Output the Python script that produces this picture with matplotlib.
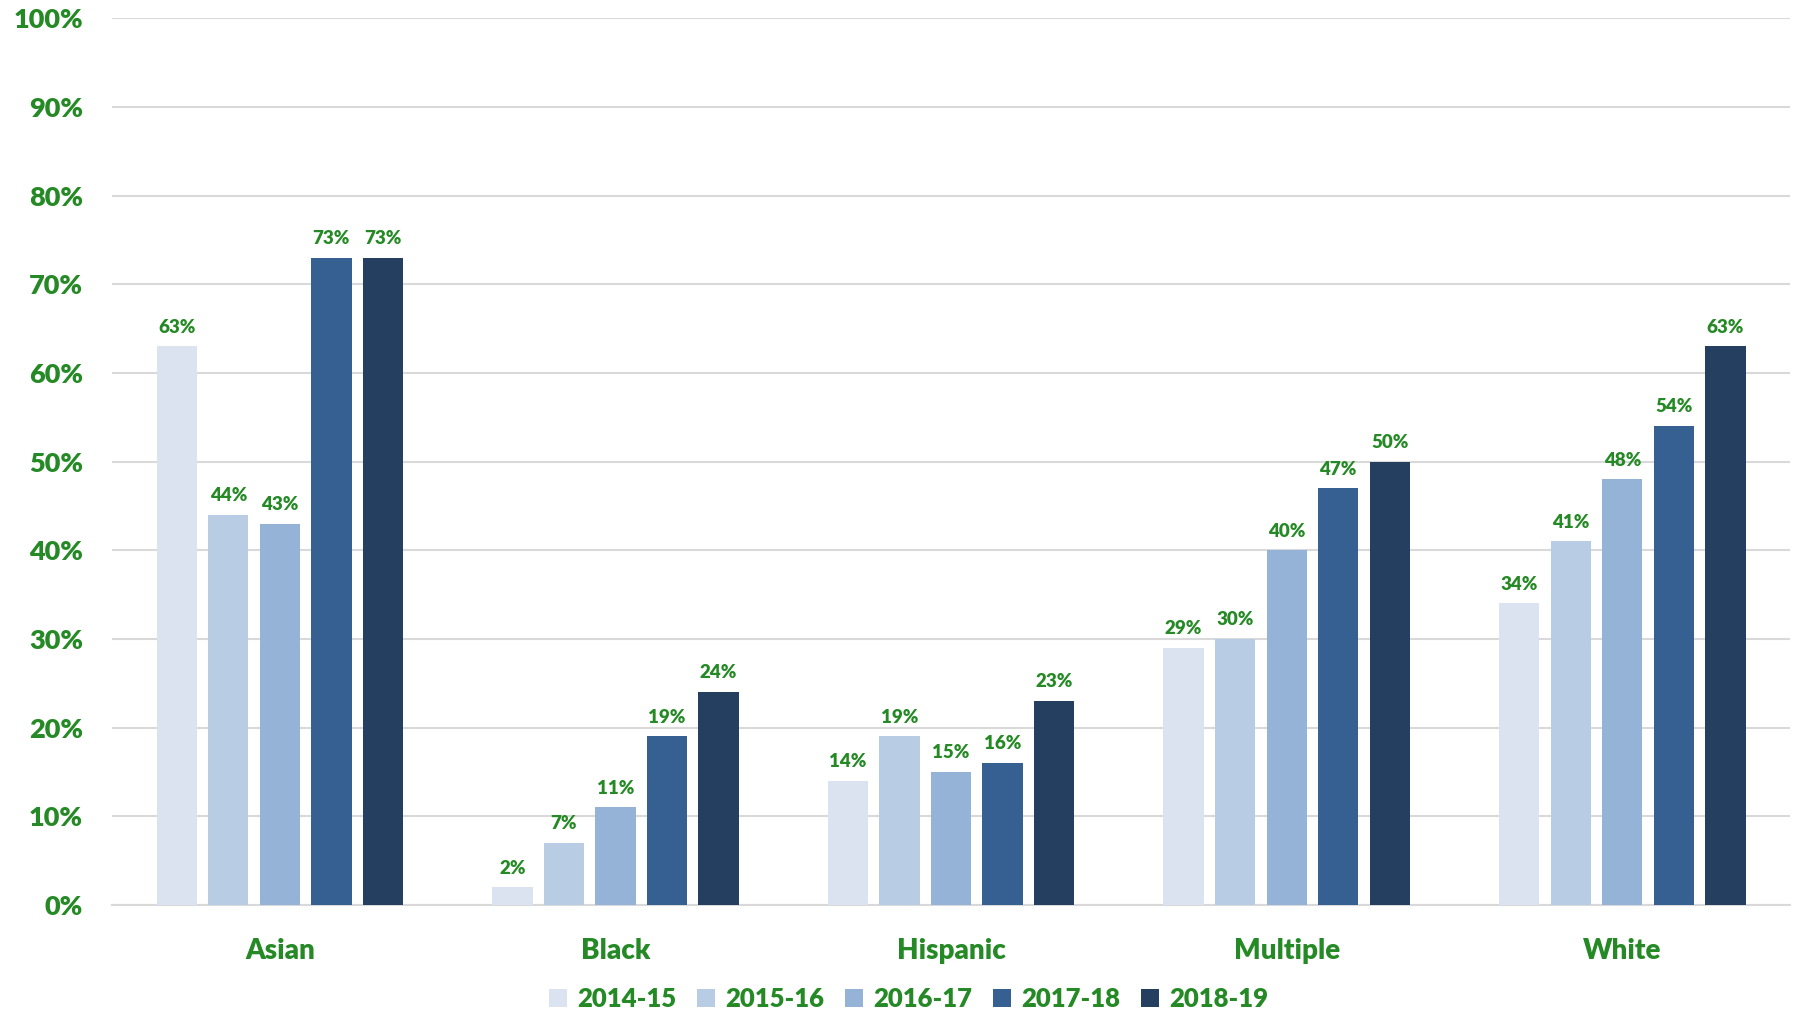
import numpy as np
import matplotlib.pyplot as plt
from matplotlib.ticker import PercentFormatter

groups = ["Asian", "Black", "Hispanic", "Multiple", "White"]
years = ["2014-15", "2015-16", "2016-17", "2017-18", "2018-19"]
rates = {
    "2014-15": [63, 2, 14, 29, 34],
    "2015-16": [44, 7, 19, 30, 41],
    "2016-17": [43, 11, 15, 40, 48],
    "2017-18": [73, 19, 16, 47, 54],
    "2018-19": [73, 24, 23, 50, 63],
}
colors = ["#dae3ef", "#b8cce4", "#95b3d7", "#366092", "#253f60"]
green = "#258a25"

plt.rcParams['font.family'] = ['Lato', 'DejaVu Sans']
W = 'heavy'

fig = plt.figure(figsize=(17.96, 10.10), dpi=100)
ax = fig.add_axes([0.0624, 0.104, 0.9343, 0.878])

x = np.arange(len(groups))
step = 0.1536
width = 0.12
for i, yr in enumerate(years):
    pos = x + (i - 2) * step
    bars = ax.bar(pos, rates[yr], width, color=colors[i], label=yr, zorder=3)
    for b, v in zip(bars, rates[yr]):
        ax.text(b.get_x() + b.get_width() / 2, v + 1.2, f"{v}%",
                ha='center', va='bottom', fontsize=13.5, color=green,
                fontweight=W)

ax.set_xlim(-0.5, 4.5)
ax.set_ylim(0, 100)
ax.set_yticks(np.arange(0, 101, 10))
ax.yaxis.set_major_formatter(PercentFormatter(decimals=0))
ax.set_xticks(x)
ax.set_xticklabels(groups)
ax.tick_params(axis='both', length=0, labelsize=19.5, labelcolor=green)
ax.tick_params(axis='y', pad=21)
ax.tick_params(axis='x', pad=24)
for lab in ax.get_xticklabels() + ax.get_yticklabels():
    lab.set_fontweight(W)
for lab in ax.get_xticklabels():
    lab.set_fontsize(20)

ax.grid(axis='y', color='#d9d9d9', linewidth=1.5, zorder=0)
for s in ['top', 'right', 'left']:
    ax.spines[s].set_visible(False)
ax.spines['bottom'].set_color('#d9d9d9')
ax.spines['bottom'].set_linewidth(1.5)

leg = fig.legend(loc='center', bbox_to_anchor=(0.506, 0.011), ncol=5,
                 frameon=False, handlelength=0.7,
                 handleheight=0.7, handletextpad=0.4, columnspacing=0.8,
                 prop={'weight': W, 'size': 18.5})
for t in leg.get_texts():
    t.set_color(green)

fig.savefig("out.png", dpi=100, facecolor='white')
